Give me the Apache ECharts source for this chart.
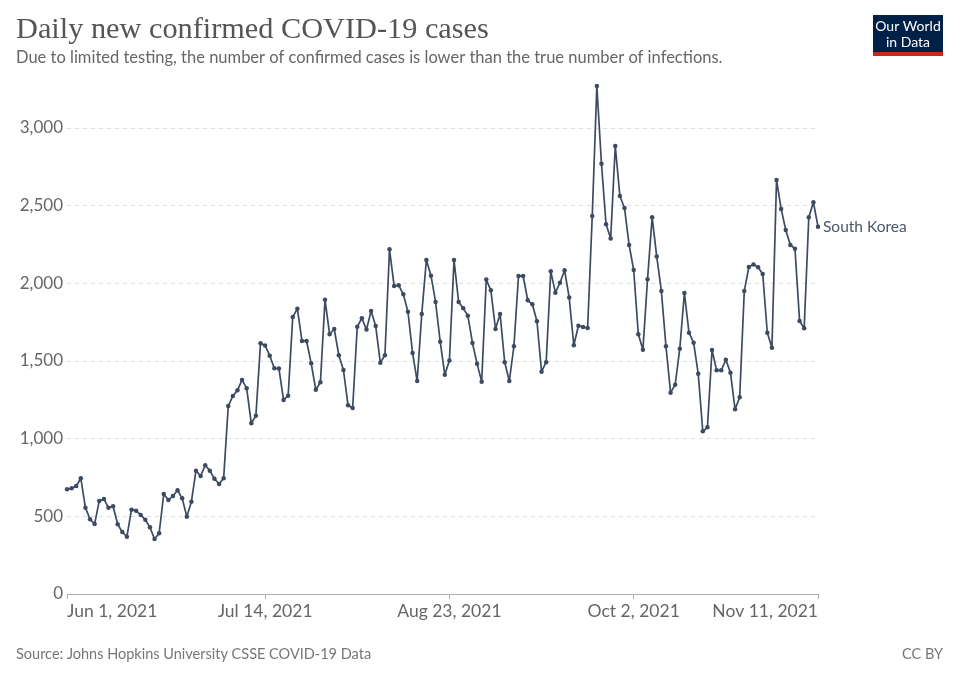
<!DOCTYPE html>
<html><head><meta charset="utf-8">
<script src="https://cdn.jsdelivr.net/npm/echarts@6/dist/echarts.min.js"></script>
<style>html,body{margin:0;padding:0;background:#fff}#c{width:960px;height:678px}</style>
</head><body><div id="c"></div>
<script>
const seriesName = 'South Korea';
const startDate = '2021-06-01';
const dayCount = 164;
const tickLabels = ['Jun 1, 2021','Jul 14, 2021','Aug 23, 2021','Oct 2, 2021','Nov 11, 2021'];
const tickIndices = [0, 43, 83, 123, 163];
const yTicks = [0, 500, 1000, 1500, 2000, 2500, 3000];
const cases = [
 674,680,695,745,556,481,451,599,612,556,565,449,399,369,543,536,509,478,429,354,391,
 644,605,631,668,616,498,594,794,760,829,794,742,708,745,1210,1275,1311,1378,1324,1099,1148,
 1614,1599,1534,1453,1451,1249,1277,1783,1837,1629,1629,1485,1315,1363,1895,1672,1706,1537,1442,1215,1197,
 1721,1775,1702,1822,1725,1489,1537,2219,1983,1987,1929,1817,1552,1371,1803,2150,2049,1880,1624,
 1412,1504,2150,1880,1839,1792,1616,1483,1367,2024,1955,1706,1803,1492,1371,1595,2047,2047,1891,1865,1756,
 1431,1492,2077,1940,2004,2084,1908,1601,1727,1719,1712,2434,3270,2770,2380,2288,2884,2562,2485,2247,2086,
 1672,1573,2026,2425,2172,1951,1595,1296,1347,1579,1938,1682,1618,1418,1047,1073,1571,1440,1440,1508,1425,
 1189,1266,1951,2105,2122,2103,2060,1682,1586,2665,2479,2343,2247,2223,1758,1711,2425,2522,2365
];
// categories (dates)
const dates = [];
{ const d0 = new Date(startDate + 'T00:00:00Z');
  for (let i = 0; i < dayCount; i++) { const d = new Date(d0.getTime() + i*86400000); dates.push(d.toISOString().slice(0,10)); } }

const chart = echarts.init(document.getElementById('c'), null, {renderer:'canvas'});
const lineColor = '#3d4a62';
chart.setOption({
  animation: false,
  backgroundColor: '#fff',
  grid: {left: 67, right: 142, top: 128, bottom: 84, containLabel: false},
  xAxis: {
    type: 'category', data: dates, boundaryGap: false,
    axisLine: {show: true, lineStyle: {color: '#b0b0b0', width: 1}},
    axisTick: {show: true, length: 5, lineStyle: {color: '#b0b0b0'}, interval: (i) => tickIndices.includes(i)},
    axisLabel: {
      interval: (i) => tickIndices.includes(i),
      formatter: (v, i) => tickLabels[tickIndices.indexOf(i)] || '',
      color: '#666', fontSize: 17.5, fontFamily: 'Lato', margin: 8,
      alignMinLabel: 'left', alignMaxLabel: 'right'
    },
    splitLine: {show: false}
  },
  yAxis: {
    type: 'value', min: yTicks[0], max: yTicks[yTicks.length-1], interval: 500,
    axisLine: {show: false}, axisTick: {show: false},
    axisLabel: {color: '#666', fontSize: 17, fontFamily: 'Lato', margin: 4,
      formatter: (v) => v.toLocaleString('en-US')},
    splitLine: {show: true, lineStyle: {color: '#dddddd', type: [4, 4], width: 1}}
  },
  series: [{
    name: seriesName, type: 'line', data: cases, clip: false,
    symbol: 'circle', symbolSize: 4.5, showSymbol: true, showAllSymbol: true,
    lineStyle: {color: lineColor, width: 1.7},
    itemStyle: {color: lineColor},
    endLabel: {show: true, formatter: seriesName, color: '#4a566c', fontSize: 15.5, fontFamily: 'Lato', distance: 5},
    emphasis: {disabled: true}
  }],
  graphic: [
    {type: 'text', left: 16, top: 15, style: {text: 'Daily new confirmed COVID-19 cases', fill: '#555', font: '30.3px "Liberation Serif", serif'}},
    {type: 'text', left: 16, top: 49, style: {text: 'Due to limited testing, the number of confirmed cases is lower than the true number of infections.', fill: '#666', font: '16.5px Lato, sans-serif'}},
    {type: 'rect', shape: {x: 873, y: 15, width: 70, height: 37}, style: {fill: '#002147'}},
    {type: 'rect', shape: {x: 873, y: 52, width: 70, height: 4}, style: {fill: '#ce261e'}},
    {type: 'text', style: {x: 908, y: 19, text: 'Our World', fill: '#fff', font: '14px Lato, sans-serif', align: 'center'}},
    {type: 'text', style: {x: 908, y: 35, text: 'in Data', fill: '#fff', font: '14px Lato, sans-serif', align: 'center'}},
    {type: 'text', style: {x: 16, y: 647, text: 'Source: Johns Hopkins University CSSE COVID-19 Data', fill: '#777', font: '14.5px Lato, sans-serif'}},
    {type: 'text', style: {x: 943, y: 647, text: 'CC BY', fill: '#777', font: '14.5px Lato, sans-serif', align: 'right'}}
  ]
});
</script></body></html>
